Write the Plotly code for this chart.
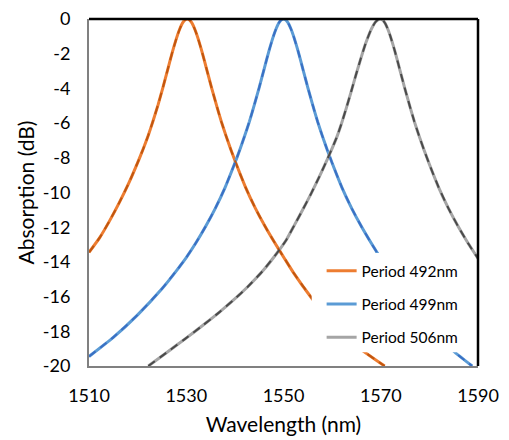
import plotly.graph_objects as go

# Absorption spectra (dB) of three grating periods
wl_492 = [1510.0, 1512.2, 1514.2, 1516.2, 1518.2, 1520.2, 1521.2, 1522.2, 1523.2, 1524.2,
          1525.2, 1526.2, 1527.2, 1528.2, 1528.7, 1529.2, 1529.7, 1530.2, 1530.7, 1531.2,
          1531.7, 1532.2, 1533.2, 1534.2, 1535.2, 1536.2, 1537.2, 1538.2, 1539.2, 1540.2,
          1542.2, 1544.2, 1546.2, 1548.2, 1550.2, 1552.0, 1555.7, 1560.0, 1565.0, 1570.8]
ab_492 = [-13.45, -12.60, -11.65, -10.60, -9.45, -8.15, -7.45, -6.70, -5.85, -4.95,
          -3.95, -2.90, -1.85, -0.93, -0.55, -0.25, -0.06, 0.0, -0.06, -0.25,
          -0.55, -0.93, -1.85, -2.90, -3.95, -4.95, -5.90, -6.75, -7.55, -8.30,
          -9.70, -10.90, -11.95, -12.90, -13.80, -14.60, -16.05, -17.55, -18.85, -20.0]

wl_499 = [1510.0, 1515.0, 1520.0, 1525.0, 1528.0, 1530.0, 1532.0, 1534.0, 1536.0, 1538.0,
          1540.0, 1541.0, 1542.0, 1543.0, 1544.0, 1545.0, 1546.0, 1547.0, 1548.0, 1548.5,
          1549.0, 1549.5, 1550.0, 1550.5, 1551.0, 1551.5, 1552.0, 1553.0, 1554.0, 1555.0,
          1556.0, 1557.0, 1558.0, 1559.0, 1560.0, 1562.0, 1564.0, 1566.0, 1568.0, 1570.0,
          1575.0, 1580.0, 1585.0, 1588.8]
ab_499 = [-19.45, -18.35, -17.05, -15.55, -14.50, -13.75, -12.90, -11.95, -10.90, -9.70,
          -8.30, -7.55, -6.75, -5.90, -4.95, -3.95, -2.90, -1.85, -0.93, -0.55,
          -0.25, -0.06, 0.0, -0.06, -0.25, -0.55, -0.93, -1.85, -2.90, -3.95,
          -4.95, -5.90, -6.75, -7.55, -8.30, -9.70, -10.90, -11.95, -12.90, -13.80,
          -15.95, -17.65, -19.15, -20.0]

wl_506 = [1522.2, 1526.0, 1529.7, 1533.3, 1536.9, 1539.8, 1542.7, 1545.8, 1548.9, 1550.6,
          1552.3, 1554.0, 1555.7, 1557.4, 1559.1, 1560.9, 1561.9, 1562.9, 1563.9, 1564.9,
          1565.9, 1566.9, 1567.9, 1568.4, 1568.9, 1569.4, 1569.9, 1570.4, 1570.9, 1571.4,
          1571.9, 1572.9, 1573.9, 1574.9, 1575.9, 1576.9, 1577.9, 1578.9, 1579.9, 1581.9,
          1583.9, 1585.9, 1587.9, 1590.0]
ab_506 = [-20.0, -19.22, -18.45, -17.68, -16.88, -16.18, -15.42, -14.50, -13.40, -12.72,
          -11.85, -10.97, -10.05, -9.07, -8.03, -6.85, -6.05, -5.15, -4.20, -3.22,
          -2.28, -1.40, -0.68, -0.40, -0.18, -0.05, 0.0, -0.06, -0.25, -0.55,
          -0.93, -1.85, -2.90, -3.95, -4.95, -5.90, -6.75, -7.55, -8.30, -9.70,
          -10.90, -11.95, -12.90, -13.80]

names = ["Period 492nm", "Period 499nm", "Period 506nm"]
x_ticks = [1510, 1530, 1550, 1570, 1590]
y_ticks = [0, -2, -4, -6, -8, -10, -12, -14, -16, -18, -20]

series = [(wl_492, ab_492), (wl_499, ab_499), (wl_506, ab_506)]
solid_colors = ["#ED7D31", "#5B9BD5", "#A5A5A5"]
dash_colors = ["#C0560F", "#3A6FC4", "#4A4A4A"]

FONT = "Lato, Carlito, Calibri, sans-serif"

fig = go.Figure()
for (wl, ab), name, c, grp in zip(series, names, solid_colors, ["g1", "g2", "g3"]):
    fig.add_trace(go.Scatter(x=wl, y=ab, mode="lines", name=name, legendgroup=grp,
                             line=dict(color=c, width=3, shape="spline", smoothing=0.5)))
# dashed overlays (fitted curves)
for (wl, ab), dc in zip(series, dash_colors):
    fig.add_trace(go.Scatter(x=wl, y=ab, mode="lines", showlegend=False, hoverinfo="skip",
                             line=dict(color=dc, width=2, dash="8px,6px", shape="spline",
                                       smoothing=0.5)))

fig.update_layout(
    width=509, height=440,
    margin=dict(l=89, r=31, t=19, b=74),
    paper_bgcolor="white", plot_bgcolor="white",
    font=dict(family=FONT, size=18, color="#000000"),
    showlegend=True,
    legend=dict(x=0.598, y=0.322, xanchor="left", yanchor="top",
                bgcolor="rgba(0,0,0,0)", borderwidth=0, tracegroupgap=10,
                font=dict(family=FONT, size=15.5, color="#000000")),
    xaxis=dict(range=[1510, 1590], tickvals=x_ticks, ticktext=[str(v) for v in x_ticks],
               showgrid=False, zeroline=False, showline=True, linecolor="#808080",
               linewidth=2, ticks="", ticklabelstandoff=12, automargin=False,
               title=dict(text="Wavelength (nm)", standoff=13,
                          font=dict(family=FONT, size=21))),
    yaxis=dict(range=[-20, 0], tickvals=y_ticks, ticktext=[str(v) for v in y_ticks],
               showgrid=False, zeroline=False, showline=True, linecolor="#808080",
               linewidth=2, ticks="", ticklabelstandoff=13, automargin=False,
               title=dict(text="Absorption (dB)", standoff=2,
                          font=dict(family=FONT, size=21))),
    shapes=[
        # white panel behind the legend entries
        dict(type="rect", xref="paper", yref="paper", x0=0.5725, x1=0.973,
             y0=0.0396, y1=0.3253, fillcolor="white", line=dict(width=0), layer="above"),
        dict(type="line", xref="paper", yref="paper", x0=0, x1=1, y0=1, y1=1,
             line=dict(color="#000000", width=2.5), layer="above"),
        dict(type="line", xref="paper", yref="paper", x0=1, x1=1, y0=0, y1=1,
             line=dict(color="#000000", width=2.5), layer="above"),
    ],
)

fig.write_html("out.html")
